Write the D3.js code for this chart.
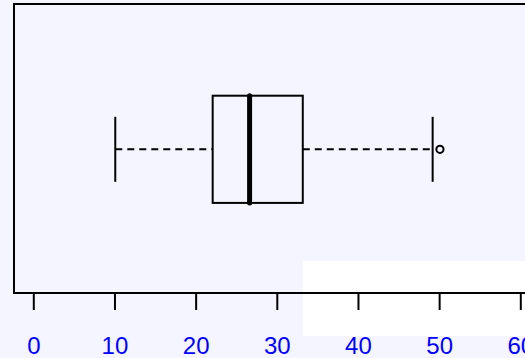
<!DOCTYPE html>
<html><head><meta charset="utf-8">
<script src="https://cdn.jsdelivr.net/npm/d3@7"></script>
<style>html,body{margin:0;padding:0;background:#f5f5ff;}svg{display:block;}</style>
</head><body>
<script>
// Data
const stats = {lowWhisker: 10.1, q1: 22.1, median: 26.65, q3: 33.2, highWhisker: 49.2};
const outliers = [50.1];
const tickValues = [0, 10, 20, 30, 40, 50, 60];

const W = 525, H = 358;
const svg = d3.select("body").append("svg").attr("width", W).attr("height", H);
svg.append("rect").attr("width", W).attr("height", H).attr("fill", "#f5f5ff");

const x = d3.scaleLinear().domain([0, 60]).range([33.3, 520.3]);
const yc = 149.3, halfBox = 53.6, halfWhisk = 32.5;

// white patch
svg.append("rect").attr("x", 303).attr("y", 261).attr("width", W - 303).attr("height", 75).attr("fill", "#ffffff");

// frame (left, top, bottom)
svg.append("path").attr("d", `M${W+2},4H14V293H${W+2}`).attr("fill", "none").attr("stroke", "#000").attr("stroke-width", 2);

// axis
const axis = d3.axisBottom(x).tickValues(tickValues).tickSize(17).tickPadding(24).tickFormat(d3.format("d"));
const g = svg.append("g").attr("transform", "translate(0,293)").call(axis);
g.select(".domain").remove();
g.selectAll(".tick line").attr("stroke", "#000").attr("stroke-width", 2);
g.selectAll(".tick text").attr("fill", "#0000ff").attr("font-family", "Liberation Sans, Arial, sans-serif").attr("font-size", 24).attr("dy", null).attr("y", 61);

const line = (x1, y1, x2, y2) => svg.append("line").attr("x1", x1).attr("y1", y1).attr("x2", x2).attr("y2", y2).attr("stroke", "#000");

// whiskers dashed
line(x(stats.lowWhisker), yc, x(stats.q1), yc).attr("stroke-width", 2).attr("stroke-dasharray", "7,5");
line(x(stats.q3), yc, x(stats.highWhisker), yc).attr("stroke-width", 2).attr("stroke-dasharray", "7,5");
// whisker caps
line(x(stats.lowWhisker), yc - halfWhisk, x(stats.lowWhisker), yc + halfWhisk).attr("stroke-width", 2);
line(x(stats.highWhisker), yc - halfWhisk, x(stats.highWhisker), yc + halfWhisk).attr("stroke-width", 2);
// box
svg.append("rect").attr("x", x(stats.q1)).attr("y", yc - halfBox).attr("width", x(stats.q3) - x(stats.q1)).attr("height", 2 * halfBox)
  .attr("fill", "none").attr("stroke", "#000").attr("stroke-width", 2);
// median
line(x(stats.median), yc - halfBox, x(stats.median), yc + halfBox).attr("stroke-width", 5).attr("stroke-linecap", "round");
// outliers
svg.selectAll("circle.out").data(outliers).join("circle").attr("class", "out")
  .attr("cx", d => x(d)).attr("cy", yc).attr("r", 3.6).attr("fill", "none").attr("stroke", "#000").attr("stroke-width", 2);
</script>
</body></html>
